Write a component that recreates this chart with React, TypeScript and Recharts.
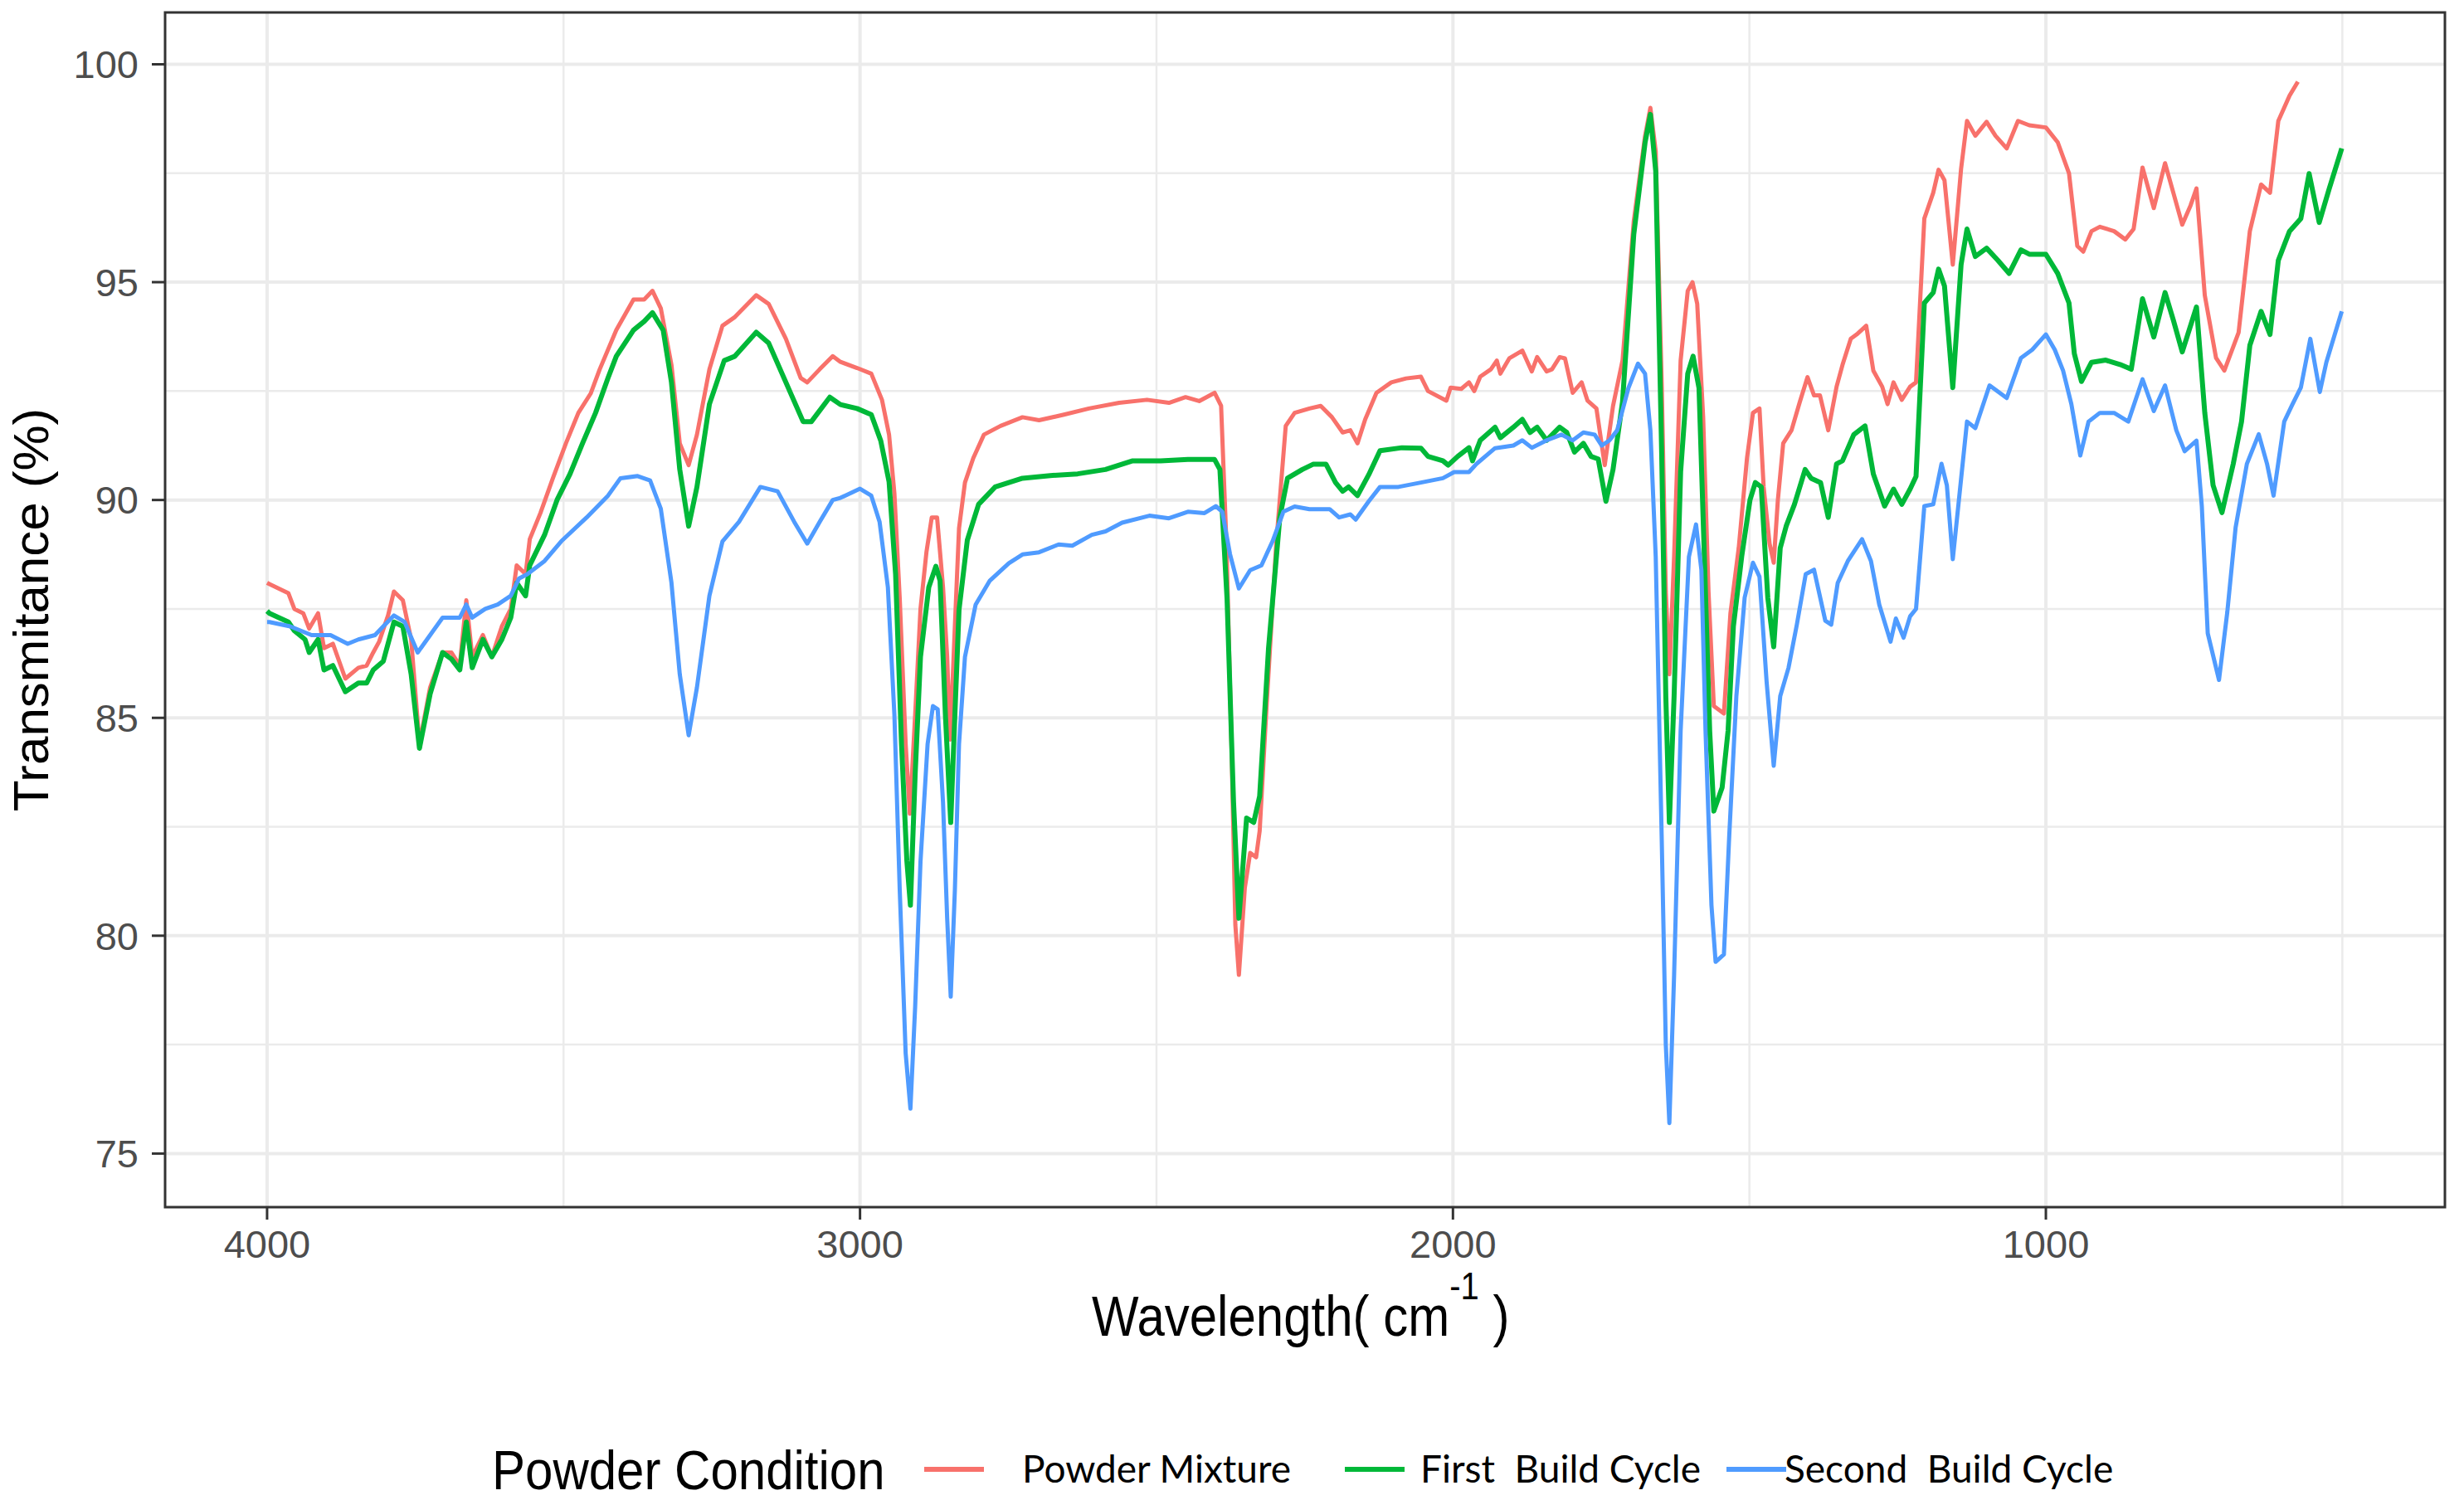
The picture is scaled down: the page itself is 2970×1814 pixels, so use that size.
import React from "react";
import {
  LineChart,
  Line,
  XAxis,
  YAxis,
  CartesianGrid,
  ReferenceArea,
} from "recharts";

// [wavenumber (cm-1), transmittance (%)]
const powderMixture: [number, number][] = [
  [4000, 88.1], [3996, 88.07], [3964, 87.86], [3954, 87.5], [3939, 87.4], [3929, 87.05], [3914, 87.4],
  [3904, 86.6], [3889, 86.7], [3868, 85.9], [3846, 86.15], [3832, 86.2], [3821, 86.5], [3811, 86.75],
  [3796, 87.35], [3786, 87.9], [3771, 87.7], [3757, 86.8], [3743, 84.4], [3725, 85.7], [3704, 86.5],
  [3689, 86.5], [3675, 86.2], [3664, 87.7], [3654, 86.4], [3636, 86.9], [3621, 86.4], [3604, 87.1],
  [3589, 87.5], [3579, 88.5], [3564, 88.3], [3557, 89.1], [3539, 89.7], [3518, 90.5], [3496, 91.3],
  [3475, 92.0], [3454, 92.45], [3439, 93.0], [3411, 93.9], [3382, 94.6], [3364, 94.6], [3350, 94.8],
  [3336, 94.4], [3318, 93.1], [3304, 91.3], [3289, 90.8], [3275, 91.5], [3254, 93.0], [3232, 94.0],
  [3211, 94.2], [3175, 94.7], [3154, 94.5], [3125, 93.7], [3100, 92.8], [3089, 92.7], [3068, 93.0],
  [3046, 93.3], [3033, 93.17], [3005, 93.03], [2981, 92.9], [2963, 92.3], [2951, 91.5], [2942, 90.15],
  [2933, 87.74], [2923, 84.4], [2916, 82.8], [2907, 85.07], [2898, 87.5], [2888, 88.8], [2879, 89.6],
  [2870, 89.6], [2860, 88.0], [2853, 86.4], [2848, 84.5], [2840, 87.1], [2833, 89.35], [2823, 90.4],
  [2809, 90.96], [2791, 91.5], [2763, 91.7], [2726, 91.9], [2698, 91.83], [2656, 91.96], [2614, 92.1],
  [2563, 92.23], [2516, 92.3], [2479, 92.23], [2451, 92.36], [2428, 92.27], [2402, 92.46], [2391, 92.16],
  [2382, 89.0], [2373, 84.1], [2367, 80.25], [2361, 79.1], [2351, 81.1], [2342, 81.9], [2332, 81.8],
  [2326, 82.4], [2314, 85.35], [2298, 89.0], [2282, 91.7], [2267, 92.0], [2242, 92.1], [2223, 92.16],
  [2204, 91.9], [2186, 91.55], [2173, 91.6], [2161, 91.3], [2148, 91.85], [2129, 92.46], [2104, 92.7],
  [2079, 92.79], [2054, 92.83], [2042, 92.5], [2011, 92.28], [2004, 92.58], [1986, 92.55], [1973, 92.7],
  [1964, 92.5], [1954, 92.83], [1936, 93.0], [1926, 93.2], [1920, 92.9], [1905, 93.25], [1883, 93.43],
  [1867, 92.95], [1858, 93.28], [1842, 92.95], [1833, 93.0], [1820, 93.28], [1811, 93.25], [1798, 92.46],
  [1783, 92.7], [1773, 92.28], [1758, 92.1], [1744, 90.8], [1730, 92.16], [1714, 93.2], [1695, 96.4],
  [1676, 98.35], [1667, 99.0], [1658, 98.0], [1648, 92.7], [1641, 87.9], [1635, 86.0], [1627, 88.7],
  [1616, 93.2], [1604, 94.8], [1596, 95.0], [1588, 94.5], [1578, 91.9], [1569, 87.9], [1560, 85.27],
  [1543, 85.1], [1532, 87.4], [1518, 88.9], [1504, 90.97], [1494, 92.0], [1483, 92.1], [1476, 90.3],
  [1466, 89.0], [1459, 88.56], [1452, 90.0], [1443, 91.3], [1429, 91.6], [1415, 92.25], [1402, 92.82],
  [1391, 92.4], [1381, 92.4], [1367, 91.6], [1353, 92.6], [1343, 93.1], [1329, 93.7], [1319, 93.8],
  [1303, 94.0], [1291, 92.97], [1276, 92.6], [1267, 92.2], [1257, 92.7], [1243, 92.3], [1229, 92.6],
  [1219, 92.7], [1205, 96.46], [1190, 97.05], [1181, 97.58], [1171, 97.34], [1157, 95.4], [1143, 97.6],
  [1133, 98.7], [1119, 98.36], [1100, 98.68], [1085, 98.36], [1066, 98.07], [1047, 98.7], [1028, 98.6],
  [1000, 98.55], [980, 98.21], [961, 97.5], [947, 95.83], [937, 95.7], [923, 96.17], [909, 96.27],
  [885, 96.17], [866, 95.98], [852, 96.22], [837, 97.63], [818, 96.7], [799, 97.73], [785, 97.05],
  [770, 96.32], [756, 96.76], [746, 97.15], [732, 94.7], [713, 93.26], [699, 92.97], [675, 93.84],
  [656, 96.17], [637, 97.24], [622, 97.05], [608, 98.7], [589, 99.28], [575, 99.6],
];

const firstBuild: [number, number][] = [
  [4000, 87.45], [3996, 87.4], [3964, 87.2], [3954, 87.0], [3936, 86.8], [3929, 86.5], [3914, 86.8],
  [3904, 86.1], [3889, 86.2], [3868, 85.6], [3846, 85.8], [3832, 85.8], [3821, 86.1], [3804, 86.3],
  [3786, 87.2], [3771, 87.1], [3757, 86.0], [3743, 84.3], [3725, 85.55], [3704, 86.5], [3689, 86.35],
  [3675, 86.1], [3664, 87.2], [3654, 86.15], [3636, 86.8], [3621, 86.4], [3604, 86.8], [3589, 87.3],
  [3579, 88.1], [3564, 87.8], [3557, 88.5], [3532, 89.2], [3511, 90.0], [3489, 90.6], [3468, 91.3],
  [3446, 92.0], [3425, 92.8], [3411, 93.3], [3382, 93.9], [3364, 94.1], [3350, 94.3], [3332, 93.9],
  [3318, 92.7], [3304, 90.7], [3289, 89.4], [3275, 90.3], [3254, 92.2], [3229, 93.2], [3211, 93.3],
  [3175, 93.85], [3154, 93.6], [3125, 92.7], [3096, 91.8], [3082, 91.8], [3051, 92.36], [3033, 92.19],
  [3005, 92.1], [2981, 91.96], [2965, 91.36], [2951, 90.42], [2940, 88.3], [2930, 84.4], [2921, 81.72],
  [2915, 80.7], [2907, 83.7], [2898, 86.4], [2884, 88.0], [2872, 88.48], [2865, 88.15], [2856, 85.07],
  [2847, 82.6], [2840, 85.07], [2833, 87.48], [2819, 89.08], [2800, 89.9], [2772, 90.3], [2726, 90.5],
  [2679, 90.56], [2633, 90.6], [2586, 90.7], [2540, 90.9], [2493, 90.9], [2447, 90.93], [2402, 90.93],
  [2393, 90.7], [2381, 87.74], [2370, 83.06], [2361, 80.4], [2348, 82.7], [2336, 82.6], [2326, 83.2],
  [2311, 86.6], [2292, 89.6], [2279, 90.5], [2254, 90.7], [2236, 90.82], [2214, 90.82], [2198, 90.4],
  [2186, 90.2], [2176, 90.3], [2161, 90.1], [2142, 90.58], [2123, 91.13], [2086, 91.2], [2054, 91.19],
  [2042, 91.0], [2017, 90.9], [2008, 90.8], [1992, 91.0], [1973, 91.2], [1967, 90.9], [1954, 91.37],
  [1929, 91.67], [1920, 91.43], [1898, 91.67], [1883, 91.85], [1870, 91.55], [1858, 91.67], [1842, 91.37],
  [1820, 91.67], [1808, 91.55], [1795, 91.1], [1780, 91.3], [1767, 91.0], [1755, 90.94], [1742, 89.97],
  [1730, 90.7], [1714, 92.25], [1695, 96.1], [1676, 98.2], [1667, 98.85], [1658, 97.55], [1648, 91.1],
  [1641, 85.5], [1635, 82.6], [1627, 85.5], [1616, 90.65], [1604, 92.9], [1595, 93.3], [1585, 92.57],
  [1576, 88.7], [1567, 84.7], [1560, 82.86], [1546, 83.4], [1536, 84.7], [1527, 87.1], [1513, 88.7],
  [1499, 90.0], [1490, 90.4], [1480, 90.3], [1469, 87.76], [1459, 86.63], [1448, 88.9], [1438, 89.4],
  [1424, 89.9], [1406, 90.7], [1396, 90.5], [1380, 90.4], [1367, 89.6], [1353, 90.83], [1343, 90.9],
  [1324, 91.5], [1305, 91.7], [1291, 90.6], [1272, 89.86], [1257, 90.25], [1243, 89.9], [1229, 90.25],
  [1219, 90.54], [1205, 94.52], [1190, 94.76], [1181, 95.3], [1171, 94.91], [1157, 92.58], [1143, 95.4],
  [1133, 96.22], [1119, 95.59], [1100, 95.78], [1081, 95.5], [1062, 95.2], [1042, 95.74], [1028, 95.64],
  [1000, 95.64], [980, 95.2], [961, 94.52], [952, 93.36], [940, 92.72], [923, 93.16], [899, 93.21],
  [875, 93.11], [856, 93.0], [837, 94.62], [818, 93.74], [799, 94.76], [785, 94.13], [770, 93.4],
  [746, 94.43], [732, 92.0], [718, 90.34], [703, 89.71], [684, 90.83], [670, 91.8], [656, 93.55],
  [637, 94.33], [622, 93.8], [608, 95.5], [589, 96.17], [570, 96.46], [556, 97.49], [539, 96.37],
  [522, 97.15], [501, 98.07],
];

const secondBuild: [number, number][] = [
  [4000, 87.2], [3996, 87.2], [3961, 87.1], [3925, 86.9], [3893, 86.9], [3864, 86.7], [3846, 86.8],
  [3818, 86.9], [3804, 87.1], [3786, 87.35], [3768, 87.2], [3746, 86.5], [3725, 86.9], [3704, 87.3],
  [3675, 87.3], [3664, 87.6], [3654, 87.3], [3632, 87.5], [3611, 87.6], [3589, 87.8], [3575, 88.2],
  [3561, 88.3], [3532, 88.6], [3504, 89.05], [3461, 89.6], [3425, 90.1], [3404, 90.5], [3375, 90.55],
  [3354, 90.45], [3336, 89.8], [3318, 88.1], [3304, 86.0], [3289, 84.6], [3275, 85.7], [3254, 87.8],
  [3232, 89.05], [3204, 89.5], [3168, 90.3], [3139, 90.2], [3111, 89.5], [3089, 89.0], [3068, 89.5],
  [3046, 90.0], [3033, 90.05], [3000, 90.26], [2981, 90.1], [2967, 89.5], [2953, 88.0], [2942, 85.07],
  [2933, 81.05], [2923, 77.3], [2915, 76.03], [2907, 78.37], [2898, 81.7], [2886, 84.4], [2877, 85.27],
  [2869, 85.2], [2860, 83.06], [2853, 80.4], [2847, 78.6], [2840, 81.05], [2833, 84.4], [2823, 86.4],
  [2805, 87.6], [2781, 88.15], [2749, 88.55], [2726, 88.75], [2698, 88.8], [2665, 88.98], [2642, 88.95],
  [2609, 89.2], [2586, 89.28], [2558, 89.48], [2512, 89.64], [2479, 89.58], [2447, 89.73], [2419, 89.7],
  [2400, 89.86], [2389, 89.73], [2376, 88.76], [2361, 87.97], [2342, 88.39], [2323, 88.5], [2304, 89.06],
  [2286, 89.73], [2267, 89.85], [2242, 89.79], [2208, 89.79], [2192, 89.6], [2173, 89.67], [2164, 89.55],
  [2142, 89.97], [2123, 90.3], [2092, 90.3], [2054, 90.4], [2017, 90.5], [1998, 90.64], [1973, 90.64],
  [1961, 90.82], [1929, 91.19], [1898, 91.25], [1883, 91.37], [1867, 91.2], [1842, 91.37], [1817, 91.5],
  [1798, 91.37], [1780, 91.55], [1761, 91.5], [1749, 91.25], [1736, 91.37], [1723, 91.6], [1704, 92.57],
  [1688, 93.13], [1676, 92.9], [1667, 91.6], [1658, 88.7], [1648, 82.3], [1641, 77.5], [1635, 75.7],
  [1627, 79.1], [1616, 84.7], [1602, 88.7], [1590, 89.44], [1581, 88.4], [1574, 84.7], [1564, 80.7],
  [1557, 79.4], [1543, 79.57], [1534, 82.3], [1522, 85.5], [1508, 87.76], [1494, 88.56], [1483, 88.24],
  [1471, 85.83], [1459, 83.9], [1448, 85.5], [1434, 86.15], [1420, 87.14], [1405, 88.3], [1391, 88.4],
  [1372, 87.23], [1362, 87.14], [1351, 88.1], [1334, 88.6], [1310, 89.1], [1295, 88.6], [1281, 87.6],
  [1262, 86.75], [1253, 87.28], [1240, 86.84], [1229, 87.33], [1219, 87.5], [1205, 89.86], [1190, 89.9],
  [1176, 90.83], [1167, 90.34], [1157, 88.64], [1133, 91.8], [1119, 91.65], [1095, 92.63], [1066, 92.34],
  [1042, 93.26], [1023, 93.45], [1000, 93.8], [985, 93.45], [971, 92.97], [957, 92.2], [942, 91.02],
  [928, 91.8], [909, 92.0], [885, 92.0], [861, 91.8], [837, 92.77], [818, 92.04], [799, 92.63],
  [780, 91.6], [766, 91.12], [746, 91.36], [737, 89.86], [727, 86.94], [708, 85.87], [694, 87.43],
  [680, 89.37], [661, 90.83], [641, 91.51], [627, 90.83], [616, 90.1], [598, 91.8], [584, 92.2],
  [570, 92.58], [554, 93.7], [538, 92.48], [527, 93.16], [501, 94.33],
];

const seriesNames = ["Powder Mixture", "First  Build Cycle", "Second  Build Cycle"];
const seriesColors = ["#F8716B", "#00B838", "#4F9BFF"];
const xTicks = [4000, 3000, 2000, 1000];
const xMinor = [3500, 2500, 1500, 500];
const yTicks = [75, 80, 85, 90, 95, 100];
const yMinor = [77.5, 82.5, 87.5, 92.5, 97.5];

const toRows = (pts: [number, number][]) => pts.map(([wn, t]) => ({ wn, t }));

const W = 2970;
const H = 1814;
const sans = "'Liberation Sans', Arial, Helvetica, sans-serif";

export default function App() {
  const series = [powderMixture, firstBuild, secondBuild];
  const widths = [5, 6, 5];
  const legendX = [
    { key: 1114, text: 1232 },
    { key: 1621, text: 1712 },
    { key: 2081, text: 2151 },
  ];

  return (
    <div style={{ position: "absolute", left: 0, top: 0, width: W, height: H, background: "#fff" }}>
      <LineChart
        width={W}
        height={H}
        margin={{ top: 15, right: 23, bottom: 279, left: 99 }}
      >
        <CartesianGrid
          stroke="#EBEBEB"
          strokeWidth={2.5}
          horizontalValues={yMinor}
          verticalValues={xMinor}
        />
        <CartesianGrid
          stroke="#EBEBEB"
          strokeWidth={4}
          horizontalValues={yTicks}
          verticalValues={xTicks}
        />
        <XAxis
          type="number"
          dataKey="wn"
          reversed
          domain={[327, 4172]}
          ticks={xTicks}
          allowDataOverflow
          height={80}
          tickSize={15}
          tickMargin={13}
          axisLine={false}
          tickLine={{ stroke: "#333333", strokeWidth: 3 }}
          tick={{ fill: "#4D4D4D", fontSize: 47, fontFamily: sans }}
        />
        <YAxis
          type="number"
          domain={[73.77, 101.19]}
          ticks={yTicks}
          allowDataOverflow
          width={100}
          tickSize={16}
          tickMargin={16}
          axisLine={false}
          tickLine={{ stroke: "#333333", strokeWidth: 3 }}
          tick={{ fill: "#4D4D4D", fontSize: 47, fontFamily: sans }}
        />
        {series.map((pts, i) => (
          <Line
            key={seriesNames[i]}
            data={toRows(pts)}
            dataKey="t"
            type="linear"
            stroke={seriesColors[i]}
            strokeWidth={widths[i]}
            strokeLinejoin="round"
            dot={false}
            activeDot={false}
            isAnimationActive={false}
          />
        ))}
        <ReferenceArea
          x1={327}
          x2={4172}
          y1={73.77}
          y2={101.19}
          fill="none"
          fillOpacity={0}
          stroke="#333333"
          strokeWidth={3}
          ifOverflow="visible"
        />
      </LineChart>

      <svg
        width={W}
        height={H}
        style={{ position: "absolute", left: 0, top: 0, pointerEvents: "none" }}
      >
        {/* axis titles */}
        <text
          transform="translate(1316,1610) scale(1,1.15)"
          fontFamily={sans}
          fontSize={60}
          fill="#000"
        >
          Wavelength( cm
          <tspan fontSize={40} dy={-38}>-1</tspan>
          <tspan dy={38}>{"\u00A0)"}</tspan>
        </text>
        <text
          transform="translate(58,735) rotate(-90) scale(1.05,1)"
          textAnchor="middle"
          fontFamily={sans}
          fontSize={59}
          fill="#000"
        >
          Transmitance (%)
        </text>

        {/* legend */}
        <text
          transform="translate(593,1795) scale(1,1.1)"
          fontFamily={sans}
          fontSize={60}
          fill="#000"
        >
          Powder Condition
        </text>
        {seriesNames.map((name, i) => (
          <g key={name}>
            <line
              x1={legendX[i].key}
              x2={legendX[i].key + 72}
              y1={1771}
              y2={1771}
              stroke={seriesColors[i]}
              strokeWidth={6}
            />
            <text
              x={legendX[i].text}
              y={1787}
              fontFamily="Lato, 'Open Sans', sans-serif"
              fontSize={46}
              fill="#000"
              style={{ whiteSpace: "pre" }}
            >
              {name}
            </text>
          </g>
        ))}
      </svg>
    </div>
  );
}
